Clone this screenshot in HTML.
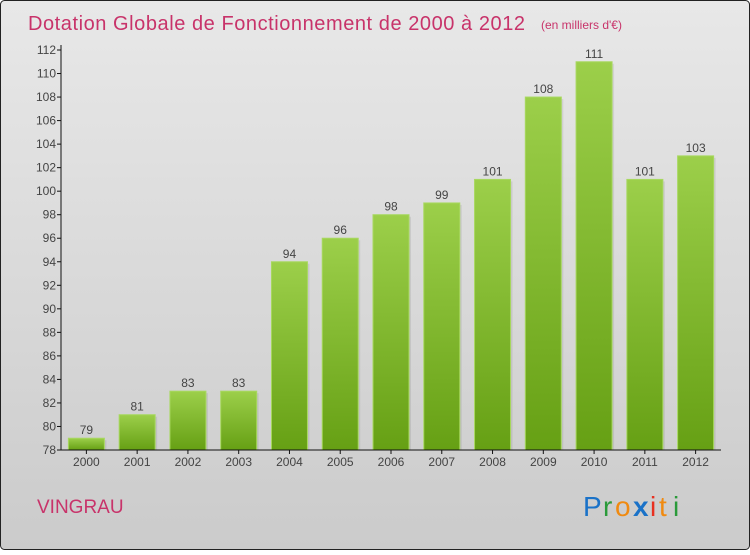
<!DOCTYPE html>
<html><head><meta charset="utf-8"><style>
body{margin:0;width:750px;height:550px;overflow:hidden;font-family:"Liberation Sans",sans-serif}
</style></head><body>
<svg width="750" height="550" xmlns="http://www.w3.org/2000/svg">
<defs>
<linearGradient id="bg" x1="0" y1="0" x2="0" y2="1"><stop offset="0" stop-color="#e8e8e8"/><stop offset="1" stop-color="#cbcbcb"/></linearGradient>
<linearGradient id="bar" x1="0" y1="0" x2="0" y2="1"><stop offset="0" stop-color="#9ccf4a"/><stop offset="1" stop-color="#66a014"/></linearGradient>
</defs>
<rect x="0.5" y="0.5" width="749" height="549" rx="4" fill="url(#bg)" stroke="#222"/>
<text x="28" y="30" font-size="20" fill="#c8336a" textLength="497">Dotation Globale de Fonctionnement de 2000 à 2012</text>
<text x="541" y="29" font-size="12" fill="#c8336a">(en milliers d'€)</text>
<g id="yaxis"></g><g id="bars"></g><g id="xaxis"></g>
<text x="37" y="513" font-size="19" fill="#c8336a">VINGRAU</text>
<g font-size="28" font-family="'Liberation Sans',sans-serif">
<text x="583" y="516" fill="#1a72c8">P</text><text x="603" y="516" fill="#2a9a3a">r</text><text x="615" y="516" fill="#f08a10">o</text><text x="633" y="516" fill="#1a72c8" font-weight="bold">x</text><text x="650" y="516" fill="#e83020">i</text><text x="659" y="516" fill="#f08a10">t</text><text x="673" y="516" fill="#2a9a3a">i</text>
</g>
</svg>
<script>
const years=["2000","2001","2002","2003","2004","2005","2006","2007","2008","2009","2010","2011","2012"];
const values=[79,81,83,83,94,96,98,99,101,108,111,101,103];
const yTicks=[78,80,82,84,86,88,90,92,94,96,98,100,102,104,106,108,110,112];
const NS="http://www.w3.org/2000/svg";
const x0=61,x1=721,yMin=78,yMax=112,py0=450,py1=50;
const y=v=>py0-(v-yMin)/(yMax-yMin)*(py0-py1);
const step=(x1-x0)/years.length;
const xc=i=>x0+step*(i+0.5);
function mk(t,a,p){const e=document.createElementNS(NS,t);for(const k in a)e.setAttribute(k,a[k]);p.appendChild(e);return e;}
const ya=document.getElementById('yaxis'),ba=document.getElementById('bars'),xa=document.getElementById('xaxis');
const ax=mk('line',{x1:x0,y1:py1-5,x2:x0,y2:py0,stroke:'#111'},ya);


yTicks.forEach(v=>{
 mk('line',{x1:x0-4,y1:y(v),x2:x0,y2:y(v),stroke:'#111'},ya);
 const t=mk('text',{x:x0-5,y:y(v)+4,'text-anchor':'end','font-size':12,fill:'#444'},ya);t.textContent=v;
 
 
});
const xl=mk('line',{x1:x0,y1:py0,x2:x1,y2:py0,stroke:'#111'},xa);


values.forEach((v,i)=>{
 const cx=xc(i),w=36;
 mk('rect',{x:cx-w/2+2,y:y(v)+2,width:w,height:py0-y(v)-2,fill:'#000',opacity:0.08},ba);
 const r=mk('rect',{x:cx-w/2,y:y(v),width:w,height:py0-y(v),fill:'url(#bar)',stroke:'#a8d860','stroke-width':1},ba);
 
 
 const l=mk('text',{x:cx,y:y(v)-4,'text-anchor':'middle','font-size':12,fill:'#444'},ba);l.textContent=v;
 
 
 mk('line',{x1:cx,y1:py0,x2:cx,y2:py0+4,stroke:'#111'},xa);
 const t=mk('text',{x:cx,y:py0+16,'text-anchor':'middle','font-size':12,fill:'#444'},xa);t.textContent=years[i];
 
 
});
</script>
</body></html>
